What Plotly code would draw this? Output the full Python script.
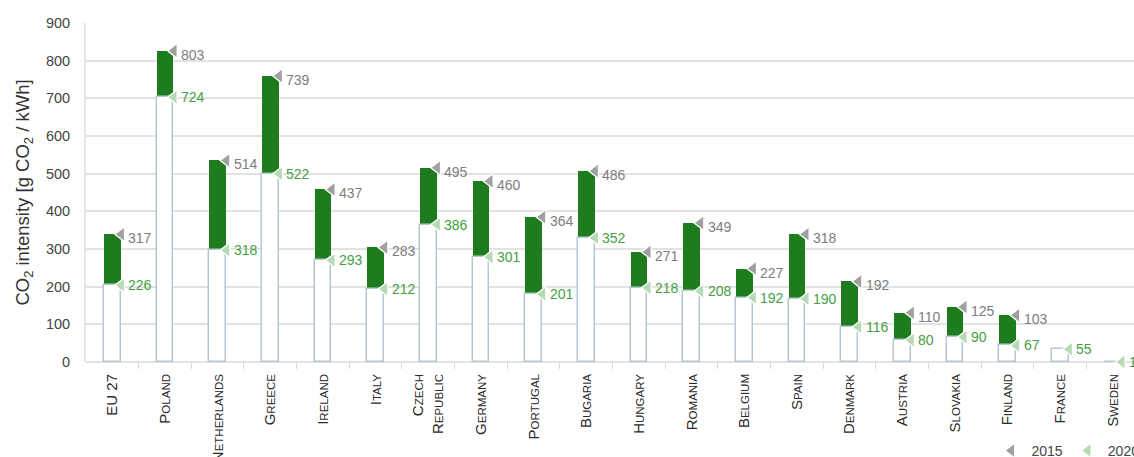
import plotly.graph_objects as go
import numpy as np

# ---- data ----
countries = ["EU 27", "Poland", "Netherlands", "Greece", "Ireland", "Italy",
             "Czech|Republic", "Germany", "Portugal", "Bugaria", "Hungary",
             "Romania", "Belgium", "Spain", "Denmark", "Austria", "Slovakia",
             "Finland", "France", "Sweden"]

# printed data labels
label_2015 = [317, 803, 514, 739, 437, 283, 495, 460, 364, 486, 271, 349,
              227, 318, 192, 110, 125, 103, None, None]
label_2020 = [226, 724, 318, 522, 293, 212, 386, 301, 201, 352, 218, 208,
              192, 190, 116, 80, 90, 67, 55, 13]

# bar levels as they are drawn in the picture
bar_top_2015 = [339, 826, 535, 759, 458, 304, 516, 480, 385, 507, 292, 369,
                248, 339, 214, 131, 146, 124, 34, 0]
bar_base_2020 = [204, 703, 297, 500, 270, 194, 365, 279, 180, 330, 197, 188,
                 171, 168, 93, 58, 66, 44, 34, 0]

y_ticks = [0, 100, 200, 300, 400, 500, 600, 700, 800, 900]

# ---- styling ----
FONT = "Liberation Sans, Arial, sans-serif"
DARK_GREEN = "#1c7c1e"
GRAY_TRI = "#a0a0a0"
GREEN_TRI = "#b4dbb4"
GRAY_TXT = "#7d7d7d"
GREEN_TXT = "#45a045"
OUTLINE = "#b7c7d1"


def small_caps(name):
    lines = []
    for part in name.split("|"):
        if part == "EU 27":
            lines.append("EU 27")
            continue
        words = []
        for w in part.split(" "):
            words.append(w[0].upper() +
                         '<span style="font-size:11.5px">' + w[1:].upper() + "</span>")
        lines.append(" ".join(words))
    return "<br>".join(lines)


xpos = np.arange(len(countries))
tick_text = [small_caps(c) for c in countries]
tri_dx = 0.17

fig = go.Figure()

fig.add_trace(go.Bar(x=xpos, y=bar_top_2015, width=0.32,
                     marker=dict(color=DARK_GREEN, line=dict(width=0)),
                     showlegend=False, hoverinfo="skip"))
fig.add_trace(go.Bar(x=xpos, y=bar_base_2020, width=0.32,
                     marker=dict(color="white", line=dict(color=OUTLINE, width=1.5)),
                     showlegend=False, hoverinfo="skip"))

idx15 = [i for i, v in enumerate(label_2015) if v is not None]
fig.add_trace(go.Scatter(
    x=[xpos[i] + tri_dx for i in idx15], y=[bar_top_2015[i] for i in idx15],
    mode="markers", name="2015", cliponaxis=False,
    marker=dict(symbol="triangle-left", size=13, color=GRAY_TRI,
                line=dict(color="white", width=1.3))))
fig.add_trace(go.Scatter(
    x=xpos + tri_dx, y=bar_base_2020,
    mode="markers", name="2020", cliponaxis=False,
    marker=dict(symbol="triangle-left", size=13, color=GREEN_TRI,
                line=dict(color="white", width=1.3))))

annotations = []
for i in idx15:
    annotations.append(dict(x=xpos[i] + tri_dx, y=bar_top_2015[i], xref="x", yref="y",
                            text=str(label_2015[i]), showarrow=False, xanchor="left",
                            xshift=5, yshift=-4,
                            font=dict(family=FONT, size=14, color=GRAY_TXT)))
for i, v in enumerate(label_2020):
    annotations.append(dict(x=xpos[i] + tri_dx, y=bar_base_2020[i], xref="x", yref="y",
                            text=str(v), showarrow=False, xanchor="left",
                            xshift=5, yshift=0,
                            font=dict(family=FONT, size=14, color=GREEN_TXT)))

fig.update_layout(
    width=1134, height=457,
    margin=dict(l=86, r=0, t=23, b=95, autoexpand=False),
    paper_bgcolor="white", plot_bgcolor="white",
    barmode="overlay", bargap=0,
    font=dict(family=FONT, size=13, color="#444"),
    annotations=annotations,
    legend=dict(orientation="h", x=0.864, y=-0.215, xanchor="left", yanchor="top",
                font=dict(family=FONT, size=14, color="#444"),
                bgcolor="rgba(0,0,0,0)", itemwidth=30),
    xaxis=dict(range=[-0.5, 19.4], tickmode="array", tickvals=xpos, ticktext=tick_text,
               tickangle=-90, ticks="", showgrid=False, zeroline=False,
               tickfont=dict(family=FONT, size=15, color="#2a2a2a"),
               ticklabelstandoff=8,
               minor=dict(tickmode="array", tickvals=list(xpos + 0.5), ticks="outside",
                          ticklen=6, tickcolor="#dadada", tickwidth=1, showgrid=False),
               showline=False),
    yaxis=dict(range=[0, 900], tickmode="array", tickvals=y_ticks,
               showgrid=True, gridcolor="#e2e2e2", gridwidth=2,
               zeroline=True, zerolinecolor="#e2e2e2", zerolinewidth=2,
               showline=True, linecolor="#e6e6e6", linewidth=2,
               ticks="", ticklabelstandoff=11,
               tickfont=dict(family=FONT, size=14.5, color="#444"),
               title=dict(text="CO<sub>2</sub> intensity [g CO<sub>2</sub> / kWh]",
                          font=dict(family=FONT, size=18.5, color="#333"), standoff=11)),
)

fig.write_html("out.html")
